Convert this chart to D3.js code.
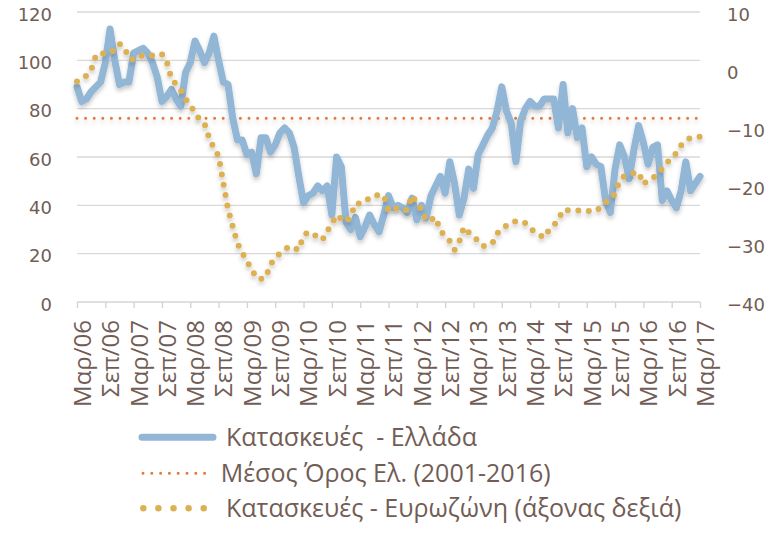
<!DOCTYPE html>
<html><head><meta charset="utf-8">
<script src="https://cdn.jsdelivr.net/npm/d3@7"></script>
<style>
html,body{margin:0;padding:0;background:#fff;}
svg{display:block;font-family:"Open Sans",sans-serif;}
</style></head>
<body>
<svg id="chart" width="770" height="533"></svg>
<script>
const tickLabels = ["Μαρ/06","Σεπ/06","Μαρ/07","Σεπ/07","Μαρ/08","Σεπ/08","Μαρ/09","Σεπ/09","Μαρ/10","Σεπ/10","Μαρ/11","Σεπ/11","Μαρ/12","Σεπ/12","Μαρ/13","Σεπ/13","Μαρ/14","Σεπ/14","Μαρ/15","Σεπ/15","Μαρ/16","Σεπ/16","Μαρ/17"];
const greece = [89,83,84,87,89,91,99,113,100,90,91,91,103,104,105,103,99,93,83,85,88,84,81,95,99,108,104,99,103,110,100,91,90,76,67,67,61,62,53,68,68,62,65,70,72,70,64,52,41,44,45,48,46,48,36,60,56,33,30,35,27,31,36,32,29,36,44,39,40,39,37,43,34,40,35,44,48,52,45,58,49,36,43,55,47,61,65,69,72,79,89,79,74,58,75,80,83,81,81,84,84,84,72,90,70,80,68,72,56,60,57,56,42,37,55,65,60,51,63,73,66,57,64,65,42,46,42,39,46,58,46,49,52];
const eurozone = [-2,-1.5,-1,0,2.5,3,2.7,3,3.5,4.5,4,2,1.8,2.4,2.5,2.5,2.5,2.8,2.7,1.5,-1.5,-2.5,-3.5,-5,-6,-7.5,-8.5,-9.2,-11.7,-13.5,-14.8,-19.5,-24,-27,-29.9,-31.5,-33,-34.3,-35.9,-36,-35.8,-33.5,-32.5,-31.6,-31,-30.4,-30.7,-31,-28.5,-28,-28.1,-29,-29.3,-27.8,-26.5,-25,-25.7,-26.2,-25.2,-23,-23,-22.8,-22,-21.6,-21.6,-21.6,-24.2,-23.6,-24,-24.3,-24.1,-21.6,-23,-24,-26,-25.8,-25.4,-27.8,-28.5,-29.5,-31,-29.6,-27.1,-28,-28.7,-29.5,-30.4,-30.2,-29.9,-28.2,-27.5,-26.8,-26.6,-26,-26.3,-26.4,-27.2,-28,-28.4,-28.9,-27.6,-26.8,-25.8,-24.1,-24.2,-24.2,-24.2,-24.3,-24.3,-24.3,-24.3,-23.6,-22.8,-22.3,-21.3,-19,-18.3,-18,-17.8,-17.6,-19.7,-19,-18.6,-18,-17,-16,-15.2,-14.3,-13,-12.2,-11.7,-11.6,-11.5];
const meanValue = 76;
const leftTicks = [0,20,40,60,80,100,120];
const rightTicks = [-40,-30,-20,-10,0,10];
const legendLabels = ["Κατασκευές  - Ελλάδα","Μέσος Όρος Ελ. (2001-2016)","Κατασκευές - Ευρωζώνη (άξονας δεξιά)"];

const textColor = "#725d55";
const FONT = "'Open Sans',sans-serif";
const NUMFONT = "'DejaVu Sans',sans-serif";
const svg = d3.select("#chart");
const x = d3.scaleLinear().domain([0, greece.length - 1]).range([77, 700]);
const yL = d3.scaleLinear().domain([0, 120]).range([302, 12]);
const yR = d3.scaleLinear().domain([-40, 10]).range([302, 12]);

const defs = svg.append("defs");
const f = defs.append("filter").attr("id","sh").attr("filterUnits","userSpaceOnUse")
  .attr("x",0).attr("y",0).attr("width",770).attr("height",533);
f.append("feDropShadow").attr("dx",0).attr("dy",3).attr("stdDeviation",2).attr("flood-color","#000").attr("flood-opacity",0.22);

// gridlines
svg.append("g").selectAll("line").data(leftTicks.filter(d=>d>0)).join("line")
  .attr("x1", 77).attr("x2", 700).attr("y1", d=>yL(d)).attr("y2", d=>yL(d))
  .attr("stroke", "#d9d9d9").attr("stroke-width", 1.4);

// x axis
const xAxis = d3.axisBottom(x).tickValues(d3.range(0, greece.length, 6)).tickSize(6).tickFormat("");
const gx = svg.append("g").attr("transform","translate(0,302)").call(xAxis);
gx.select(".domain").attr("stroke","#d4d4d4").attr("stroke-width",1.6).attr("d","M77,0H700");
gx.selectAll(".tick line").attr("stroke","#d4d4d4").attr("stroke-width",1.4);

gx.selectAll(".tick").append("text")
  .attr("transform","rotate(-90) translate(0,5)")
  .attr("x", -18).attr("y", 0).attr("dy", "0.35em")
  .attr("text-anchor","end")
  .attr("fill", textColor).attr("font-size", 24)
  .attr("font-family", FONT)
  .text((d,i)=>tickLabels[i]);

// left axis labels
const gl = svg.append("g").attr("transform","translate(52,0)")
  .call(d3.axisLeft(yL).tickValues(leftTicks).tickSize(0).tickPadding(0));
gl.select(".domain").remove();
gl.selectAll("text").attr("fill",textColor).attr("font-size",18).attr("font-family",NUMFONT).attr("dy","0.45em");

const gr = svg.append("g").attr("transform","translate(727,0)")
  .call(d3.axisRight(yR).tickValues(rightTicks).tickSize(0).tickPadding(0));
gr.select(".domain").remove();
gr.selectAll("text").attr("fill",textColor).attr("font-size",18).attr("font-family",NUMFONT).attr("dy","0.45em");

// mean line
svg.append("line").attr("x1", x(0)).attr("x2", x(greece.length-1))
  .attr("y1", yL(meanValue)).attr("y2", yL(meanValue))
  .attr("stroke","#e4793a").attr("stroke-width",3).attr("stroke-linecap","round")
  .attr("stroke-dasharray","0,8.6").attr("filter","url(#sh)");

// greece
svg.append("path").datum(greece)
  .attr("d", d3.line().x((d,i)=>x(i)).y(d=>yL(d)))
  .attr("fill","none").attr("stroke","#92b6d6").attr("stroke-width",7)
  .attr("stroke-linejoin","round").attr("stroke-linecap","round").attr("filter","url(#sh)");

// eurozone
svg.append("path").datum(eurozone)
  .attr("d", d3.line().x((d,i)=>x(i)).y(d=>yR(d)))
  .attr("fill","none").attr("stroke","#dcb153").attr("stroke-width",6)
  .attr("stroke-linecap","round").attr("stroke-dasharray","0,10.5").attr("filter","url(#sh)");

// legend
const lg = svg.append("g").attr("font-family",FONT).attr("font-size",25).attr("fill",textColor);
lg.append("line").attr("x1",142).attr("x2",213).attr("y1",437.3).attr("y2",437.3)
  .attr("stroke","#92b6d6").attr("stroke-width",7).attr("stroke-linecap","round");
lg.append("line").attr("x1",143).attr("x2",206).attr("y1",473.3).attr("y2",473.3)
  .attr("stroke","#e4793a").attr("stroke-width",3).attr("stroke-linecap","round").attr("stroke-dasharray","0,8.8");
lg.append("line").attr("x1",143.3).attr("x2",204.5).attr("y1",508.3).attr("y2",508.3)
  .attr("stroke","#dcb153").attr("stroke-width",6.5).attr("stroke-linecap","round").attr("stroke-dasharray","0,15.1");
const legendY = [437.3, 473.3, 508.3];
const legendX = [226, 220.7, 226];
lg.selectAll("text").data(legendLabels).join("text")
  .attr("x",(d,i)=>legendX[i]).attr("y",(d,i)=>legendY[i]).attr("dy","0.35em")
  .attr("xml:space","preserve").style("white-space","pre")
  .text(d=>d);
</script>
</body></html>
